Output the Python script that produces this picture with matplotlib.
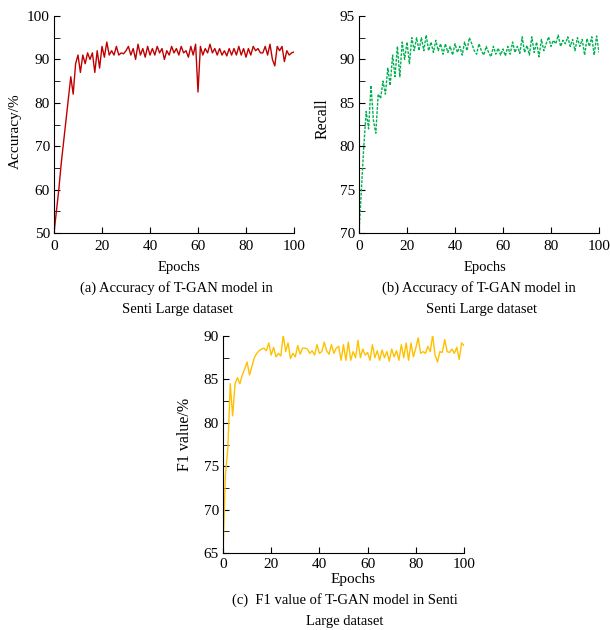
import matplotlib.pyplot as plt
from matplotlib.ticker import MultipleLocator

plt.rcParams["font.family"] = ["Liberation Serif", "DejaVu Serif"]
plt.rcParams["font.size"] = 10

# epoch index for all three curves
epochs = list(range(0, 101))

accuracy = [50, 55, 60, 66, 71, 76, 81, 86, 82, 89,
            91, 87, 91, 89, 91.5, 90, 91.5, 87, 92, 88,
            93, 90.5, 94, 91, 92, 91, 93, 91, 91.5, 91.3,
            92, 93, 91, 92.5, 90, 93.5, 91, 92.5, 90.5, 93,
            91, 92.5, 91, 93, 91.5, 92.5, 90, 92, 91, 93,
            91.5, 92.5, 91, 93, 91.5, 92, 90.5, 93, 91, 93.5,
            82.5, 93, 91, 92.5, 91.5, 93.5, 91.5, 92.5, 91, 92.5,
            91, 92, 90.8, 92.5, 91, 92.5, 91, 93, 91, 92.5,
            90.5, 92.5, 91, 93, 92, 92.5, 91.5, 91.5, 93, 91,
            93.5, 90, 88.5, 93, 92, 93, 89.5, 92, 91, 91.5, 91.7]

recall = [70, 75, 80, 84, 82, 87, 83, 81.5, 86, 85.5,
          87.5, 86, 89, 87, 90.5, 88, 91.5, 88, 92, 90,
          92, 89.5, 92.5, 91, 92.5, 91, 92.5, 91, 92.8, 91,
          92, 90.8, 92.2, 91, 91.8, 90.6, 91.8, 90.8, 91.5, 90.5,
          91.8, 90.8, 91.5, 90.5, 92, 91, 92.5, 91.8, 91, 90.6,
          91.8, 91, 90.5, 91.5, 90.8, 90.3, 91.5, 90.6, 91.3, 90.5,
          91.2, 90.4, 91.5, 90.6, 92, 90.8, 91.5, 90.7, 92.6, 90.8,
          91.6, 90.5, 92.6, 90.8, 92, 90.3, 92.3, 91, 91.8, 92.6,
          91.5, 92.2, 91.8, 92.8, 91.5, 92.2, 91.8, 92.6, 91.5, 92.3,
          91, 92.5, 91.5, 92.3, 90.5, 92.4, 91.5, 92.6, 90.5, 92.7, 90.8]

f1_value = [65, 74, 77, 84.5, 80.8, 84.5, 85.2, 84.5, 85.5, 86.2,
            87, 85.5, 86.5, 87.5, 88, 88.3, 88.5, 88.6, 88.3, 89.2,
            87.8, 88.7, 87.6, 88, 87.7, 90.1, 88.2, 89.2, 87.4, 88,
            87.6, 88.9, 87.9, 88.6, 88.6, 88.5, 88, 88.3, 87.8, 89,
            88, 88.2, 89.3, 88.3, 87.9, 89, 88, 88.6, 88.8, 87.2,
            89, 87.2, 89.3, 87.2, 88.2, 87.5, 89.5, 87.5, 88.5, 87.8,
            88.1, 87.2, 89, 87.5, 88.3, 87.2, 88.4, 87.5, 88.2, 87.1,
            88.5, 87.6, 88.3, 87.2, 89, 87.5, 89.2, 87.2, 89.2, 87.6,
            88.6, 89.8, 88, 88.2, 88, 88.8, 88.2, 90.1, 87.8, 87,
            88.2, 88.1, 89.6, 88.2, 88.1, 88.5, 88, 88.7, 87.3, 89.2, 88.9]

W, H = 610, 630


def fx(px):
    return px / W


def fy(py):
    return 1 - py / H


def style_axes(ax, ylim, ymajor, xpad):
    ax.set_xlim(0, 100)
    ax.set_ylim(*ylim)
    ax.xaxis.set_major_locator(MultipleLocator(20))
    ax.yaxis.set_major_locator(MultipleLocator(ymajor))
    ax.yaxis.set_minor_locator(MultipleLocator(ymajor / 2))
    ax.spines["top"].set_visible(False)
    ax.spines["right"].set_visible(False)
    ax.tick_params(which="both", direction="in", labelsize=11)
    ax.tick_params(which="both", length=4)
    ax.tick_params(axis="x", pad=xpad)
    ax.tick_params(axis="y", pad=3)


fig = plt.figure(figsize=(6.1, 6.3), dpi=100)

ax1 = fig.add_axes([fx(54), fy(233), fx(240), 217 / H])
ax1.plot(epochs, accuracy, color="#c00000", lw=1.0)
style_axes(ax1, (50, 100), 10, 5)

ax2 = fig.add_axes([fx(359), fy(233), fx(240), 217 / H])
ax2.plot(epochs, recall, color="#00b050", lw=1.0, linestyle=(0, (2, 1)))
style_axes(ax2, (70, 95), 5, 5)

ax3 = fig.add_axes([fx(223), fy(553), fx(241), 217 / H])
ax3.plot(epochs, f1_value, color="#ffc000", lw=1.0)
style_axes(ax3, (65, 90), 5, 3.5)

# axis labels
fig.text(fx(15), fy(131), "Accuracy/%", rotation=90, ha="center", va="center", fontsize=11)
fig.text(fx(323), fy(119), "Recall", rotation=90, ha="center", va="center", fontsize=11.5)
fig.text(fx(185), fy(434), "F1 value/%", rotation=90, ha="center", va="center", fontsize=11.5)
fig.text(fx(179), fy(268), "Epochs", ha="center", va="center", fontsize=10.5)
fig.text(fx(485), fy(268), "Epochs", ha="center", va="center", fontsize=10.5)
fig.text(fx(353), fy(580), "Epochs", ha="center", va="center", fontsize=11)

# captions
fig.text(fx(176), fy(288), "(a) Accuracy of T-GAN model in", ha="center", va="center", fontsize=10.5)
fig.text(fx(178), fy(309), "Senti Large dataset", ha="center", va="center", fontsize=10.5)
fig.text(fx(479), fy(288), "(b) Accuracy of T-GAN model in", ha="center", va="center", fontsize=10.5)
fig.text(fx(481), fy(309), "Senti Large dataset", ha="center", va="center", fontsize=10.5)
fig.text(fx(345), fy(600), "(c)  F1 value of T-GAN model in Senti", ha="center", va="center", fontsize=10.5)
fig.text(fx(345), fy(621), "Large dataset", ha="center", va="center", fontsize=10.5)

fig.savefig("out.png", dpi=100)
